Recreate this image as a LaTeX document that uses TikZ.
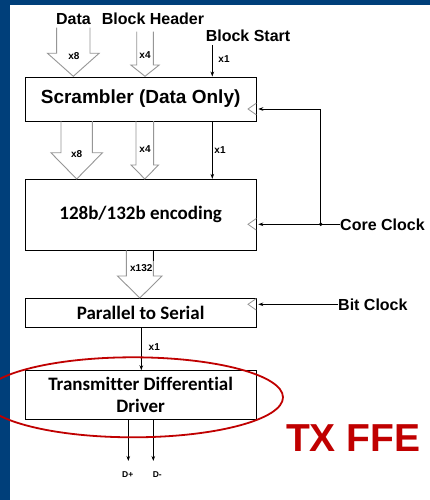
\documentclass[tikz,border=0pt]{standalone}
\usepackage{fontspec}
\setmainfont{Liberation Sans}
\newfontfamily\carlito[Ligatures=NoCommon]{Carlito}
\usetikzlibrary{arrows.meta,calc}
\definecolor{bandblue}{RGB}{0,63,122}
\definecolor{ffered}{RGB}{192,0,0}
\definecolor{arrgray}{RGB}{150,150,150}
\newcommand\fatarrow[6]{%
  \draw[fatarr] ({#1-#2},#3) -- ({#1-#2},#4) -- ({#1-#5},#4) -- (#1,#6) -- ({#1+#5},#4) -- ({#1+#2},#4) -- ({#1+#2},#3);}
\tikzset{
  blk/.style={draw=black, line width=0.9pt, minimum width=231.3pt, inner sep=0pt, fill=white},
  calfont/.style={font=\carlito\bfseries\fontsize{19}{22.7}\selectfont},
  arfont/.style={font=\bfseries\fontsize{19}{22}\selectfont},
  lbl/.style={font=\bfseries\fontsize{16}{18}\selectfont, inner sep=0pt},
  tiny/.style={font=\bfseries\fontsize{10}{12}\selectfont, inner sep=0pt},
  fatarr/.style={draw=arrgray, line width=0.9pt, line join=miter},
  thinarr/.style={draw=black, line width=0.8pt, -{Stealth[length=5pt,width=3.6pt]}},
  clk/.style={draw=arrgray, line width=0.8pt},
}
\begin{document}
\begin{tikzpicture}[x=1pt,y=-1pt]
\useasboundingbox (0,0) rectangle (430,500);
\fill[white] (0,0) rectangle (430,500);
% blue frame
\fill[bandblue] (0,0) rectangle (430,5);
\fill[bandblue] (0,0) rectangle (10,500);

% boxes
\node[blk, minimum height=44pt, arfont] (scr) at (140.65,99) {Scrambler (Data Only)};
\node[blk, minimum height=71pt, calfont] (enc) at (140.65,214.8) {128b/132b encoding};
\node[blk, minimum height=29.4pt, calfont] (p2s) at (140.65,313) {Parallel to Serial};
\node[blk, minimum height=48.6pt, calfont, align=center] (tx) at (140.65,395) {Transmitter Differential\\Driver};

% top labels
\node[lbl, anchor=base] (data) at (73.4,25) {Data};
\node[lbl, anchor=base] (bh) at (153,25) {Block Header};
\node[lbl, anchor=base] (bs) at (248,41.7) {Block Start};

% fat arrows into scrambler
\fatarrow{73.3}{16.7}{27.7}{53.3}{25.8}{76.3}
\fatarrow{145}{8.3}{31.7}{65}{14.2}{76.3}
\node[tiny] (x8a) at (74,56) {x8};
\node[tiny] (x4a) at (145,55) {x4};
\coordinate (bsTop) at (212.3,45);
\draw[thinarr] (bsTop) -- (scr.north -| bsTop);
\node[tiny] (x1a) at (224,59) {x1};

% fat arrows scrambler -> encoding
\fatarrow{76.7}{15.7}{121}{152.7}{25.8}{179}
\fatarrow{144.8}{8.8}{121}{165}{13.7}{179}
\node[tiny] (x8b) at (76.7,154) {x8};
\node[tiny] (x4b) at (145,149) {x4};
\coordinate (x1c) at (212.3,121);
\draw[thinarr] (scr.south -| x1c) -- (enc.north -| x1c);
\node[tiny] (x1b) at (220,150) {x1};

% encoding -> p2s
\fatarrow{139.8}{13.5}{250.3}{276}{22.3}{298}
\draw[black, line width=0.8pt] (153.3,250.3) -- (153.3,260.7);
\node[tiny] (x132) at (141.3,268.3) {x132};

% p2s -> tx
\coordinate (sx) at (141.3,330);
\draw[thinarr] (p2s.south -| sx) -- (tx.north -| sx);
\node[tiny] (x1d) at (154.3,347.3) {x1};

% outputs
\coordinate (dp) at (128.3,461);
\coordinate (dm) at (153.3,461);
\draw[thinarr] (tx.south -| dp) -- (dp);
\draw[thinarr] (tx.south -| dm) -- (dm);
\node[font=\bfseries\fontsize{8.5}{10}\selectfont, inner sep=0pt] (dplus) at (127.7,475) {D+};
\node[font=\bfseries\fontsize{8.5}{10}\selectfont, inner sep=0pt] (dminus) at (157.3,475) {D-};

% clocks
\node[lbl, anchor=west] (cc) at (340,224.3) {Core Clock};
\node[lbl, anchor=west] (bc) at (338,304.3) {Bit Clock};
\coordinate (scrclk) at (256.3,109);
\coordinate (encclk) at (256.3,224.3);
\coordinate (p2sclk) at (256.3,304.3);
\coordinate (ccdot) at (320.7,224.3);
\foreach \c in {scrclk,encclk,p2sclk}{
  \draw[clk] ($(\c)+(0,-5.8)$) -- ++(-8.3,5.8) -- ++(8.3,5.8);
}
\draw[thinarr, shorten >=2pt] (cc.west) -- (encclk);
\draw[thinarr, shorten >=2pt] (ccdot) |- (scrclk);
\fill (ccdot) circle (1.9);
\draw[thinarr, shorten >=2pt] (bc.west) -- (p2sclk);

% TX FFE highlight
\draw[ffered, line width=1.8pt] (133,397.3) ellipse [x radius=150, y radius=40];
\node[text=ffered, font=\bfseries\fontsize{39}{44}\selectfont, inner sep=0pt] (ffe) at (353.3,437.9) {TX FFE};
\end{tikzpicture}
\end{document}
